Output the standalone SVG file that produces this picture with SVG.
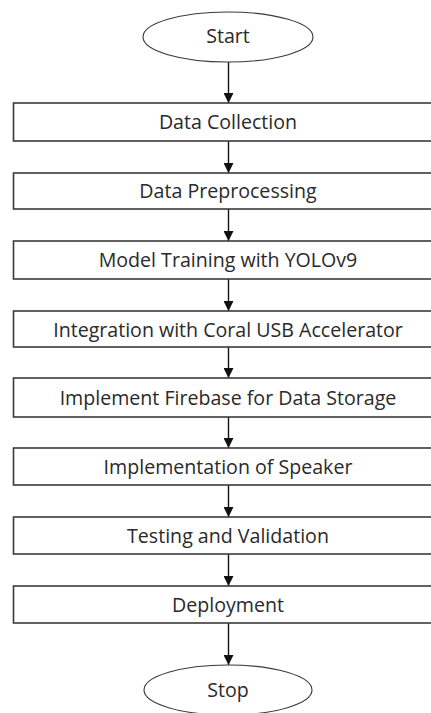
<svg xmlns="http://www.w3.org/2000/svg" width="431" height="713" viewBox="0 0 431 713">
  <style>
    .box { fill: #ffffff; stroke: #3a3a3a; stroke-width: 1.6; }
    .term { fill: #ffffff; stroke: #3a3a3a; stroke-width: 1.1; }
    .lbl { font-family: "Open Sans", "Liberation Sans", sans-serif; font-size: 19.6px; fill: #2a2a2a; text-anchor: middle; }
    .flow { stroke: #111111; stroke-width: 1.4; fill: none; marker-end: url(#arrow); }
  </style>
  <defs>
    <marker id="arrow" viewBox="0 0 10 10" refX="10" refY="5" markerWidth="10" markerHeight="10" markerUnits="userSpaceOnUse" orient="auto">
      <path d="M0,0 L10,5 L0,10 Z" fill="#111111"/>
    </marker>
  </defs>
  <rect width="431" height="713" fill="#ffffff"/>

  <g id="connectors">
    <line class="flow" x1="228.5" y1="62" x2="228.5" y2="103"/>
    <line class="flow" x1="228.5" y1="141" x2="228.5" y2="173"/>
    <line class="flow" x1="228.5" y1="209" x2="228.5" y2="241"/>
    <line class="flow" x1="228.5" y1="279" x2="228.5" y2="311"/>
    <line class="flow" x1="228.5" y1="347" x2="228.5" y2="378"/>
    <line class="flow" x1="228.5" y1="417" x2="228.5" y2="448"/>
    <line class="flow" x1="228.5" y1="485" x2="228.5" y2="517"/>
    <line class="flow" x1="228.5" y1="554" x2="228.5" y2="586"/>
    <line class="flow" x1="228.5" y1="623" x2="228.5" y2="665"/>
  </g>

  <g id="start">
    <ellipse class="term" cx="228" cy="37" rx="85" ry="25"/>
    <text class="lbl" x="228" y="43">Start</text>
  </g>
  <g id="data-collection">
    <rect class="box" x="13.5" y="103" width="430" height="38"/>
    <text class="lbl" x="228" y="129">Data Collection</text>
  </g>
  <g id="data-preprocessing">
    <rect class="box" x="13.5" y="173" width="430" height="36"/>
    <text class="lbl" x="228" y="198">Data Preprocessing</text>
  </g>
  <g id="model-training">
    <rect class="box" x="13.5" y="241" width="430" height="38"/>
    <text class="lbl" x="228" y="267">Model Training with YOLOv9</text>
  </g>
  <g id="coral-integration">
    <rect class="box" x="13.5" y="311" width="430" height="36"/>
    <text class="lbl" x="228" y="337">Integration with Coral USB Accelerator</text>
  </g>
  <g id="firebase">
    <rect class="box" x="13.5" y="378" width="430" height="39"/>
    <text class="lbl" x="228" y="405">Implement Firebase for Data Storage</text>
  </g>
  <g id="speaker">
    <rect class="box" x="13.5" y="448" width="430" height="37"/>
    <text class="lbl" x="228" y="474">Implementation of Speaker</text>
  </g>
  <g id="testing">
    <rect class="box" x="13.5" y="517" width="430" height="37"/>
    <text class="lbl" x="228" y="543">Testing and Validation</text>
  </g>
  <g id="deployment">
    <rect class="box" x="13.5" y="586" width="430" height="37"/>
    <text class="lbl" x="228" y="612">Deployment</text>
  </g>
  <g id="stop">
    <ellipse class="term" cx="228" cy="690" rx="84" ry="25"/>
    <text class="lbl" x="228" y="697">Stop</text>
  </g>
</svg>
